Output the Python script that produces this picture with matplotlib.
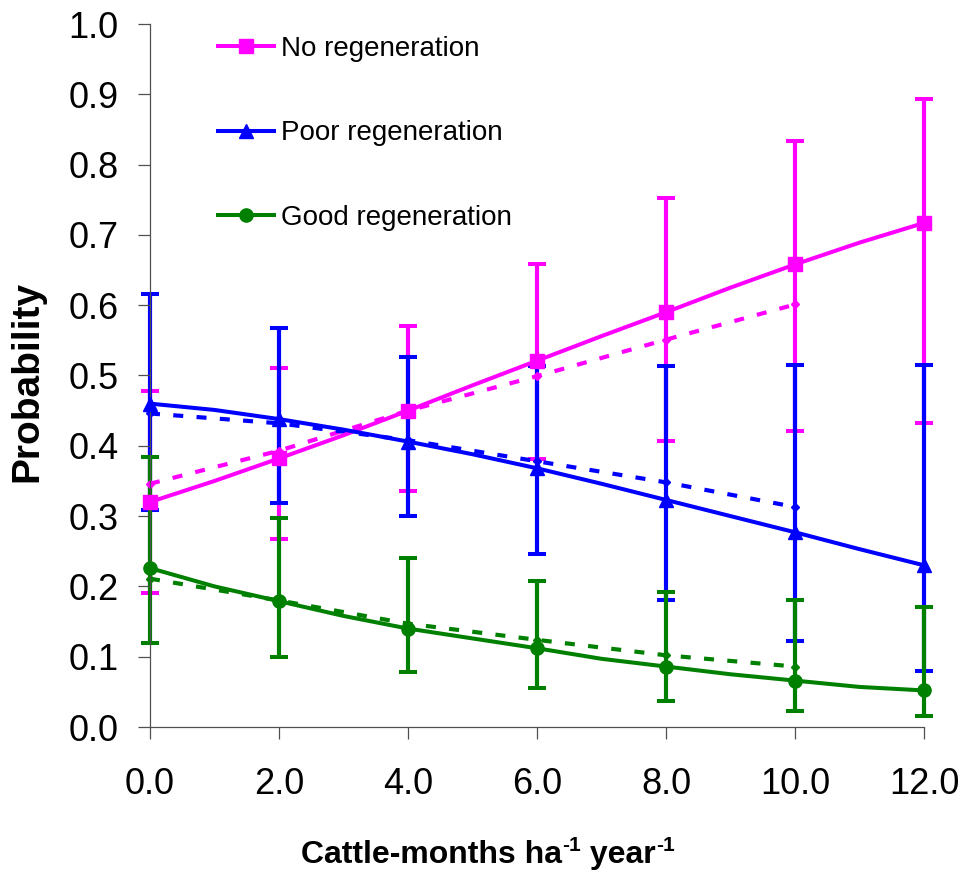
"""
    Regeneration probability vs stocking rate
"""

import numpy as np
import matplotlib
matplotlib.use('Agg')
import matplotlib.pyplot as plt

plt.rcParams['font.family'] = ['Liberation Sans', 'DejaVu Sans']

# Model curves (solid), one value per cattle-month step
x_model = [0, 1, 2, 3, 4, 5, 6, 7, 8, 9, 10, 11, 12]
no_model = [0.320, 0.350, 0.382, 0.415, 0.450, 0.486, 0.521, 0.556, 0.590, 0.625, 0.658, 0.689, 0.717]
poor_model = [0.460, 0.451, 0.438, 0.423, 0.406, 0.388, 0.368, 0.346, 0.323, 0.300, 0.277, 0.253, 0.230]
good_model = [0.226, 0.200, 0.179, 0.158, 0.140, 0.126, 0.112, 0.097, 0.086, 0.075, 0.066, 0.057, 0.052]

# Error bar limits at the marked points
x_err = [0, 2, 4, 6, 8, 10, 12]
no_low = [0.191, 0.268, 0.336, 0.381, 0.407, 0.421, 0.433]
no_high = [0.478, 0.510, 0.570, 0.658, 0.752, 0.834, 0.894]
poor_low = [0.308, 0.319, 0.300, 0.246, 0.180, 0.123, 0.080]
poor_high = [0.616, 0.567, 0.527, 0.513, 0.513, 0.515, 0.515]
good_low = [0.120, 0.100, 0.078, 0.055, 0.037, 0.023, 0.015]
good_high = [0.384, 0.297, 0.240, 0.208, 0.192, 0.180, 0.171]

# Observed values (dotted)
x_obs = [0, 2, 4, 6, 8, 10]
no_obs = [0.346, 0.393, 0.450, 0.499, 0.551, 0.601]
poor_obs = [0.446, 0.432, 0.408, 0.378, 0.348, 0.313]
good_obs = [0.211, 0.180, 0.147, 0.124, 0.102, 0.086]

labels = ['No regeneration', 'Poor regeneration', 'Good regeneration']
colors = ['#FF00FF', '#0000FF', '#008000']
markers = ['s', '^', 'o']

W, H = 963, 872
fig = plt.figure(figsize=(W / 100, H / 100), dpi=100)
ax = fig.add_axes([150 / W, 1 - 727 / H, 774 / W, 703 / H])

lw = 2.9
series = [
    (no_model, no_low, no_high, no_obs),
    (poor_model, poor_low, poor_high, poor_obs),
    (good_model, good_low, good_high, good_obs),
]

handles = []
for i, (model, low, high, obs) in enumerate(series):
    c = colors[i]
    ym = np.array(model)[::2]
    yerr = [ym - np.array(low), np.array(high) - ym]
    eb = ax.errorbar(x_err, ym, yerr=yerr, fmt='none', ecolor=c, elinewidth=3.0,
                     capsize=6.5, capthick=2.9, zorder=1 + 0.1 * i)
    for a in list(eb[1]) + list(eb[2]):
        a.set_clip_on(False)
    ax.plot(x_obs, obs, color=c, lw=3.0, ls=(0, (2.4, 3.2)),
            marker='D', ms=4.5, zorder=2 + 0.1 * i, clip_on=False)
    h, = ax.plot(x_model, model, color=c, lw=lw, marker=markers[i],
                 ms=10 if markers[i] != 'o' else 9.5, markevery=2,
                 zorder=3 + 0.1 * i, label=labels[i], clip_on=False)
    handles.append(h)

ax.set_xlim(0, 12)
ax.set_ylim(0, 1.0)
ax.set_xticks(x_err)
ax.set_xticklabels(['%.1f' % v for v in x_err])
ax.set_yticks(np.arange(0, 1.01, 0.1))
ax.set_yticklabels(['%.1f' % v for v in np.arange(0, 1.01, 0.1)])

for s in ['top', 'right']:
    ax.spines[s].set_visible(False)
for s in ['left', 'bottom']:
    ax.spines[s].set_color('#505050')
    ax.spines[s].set_linewidth(0.9)
ax.tick_params(direction='out', length=8.6, width=0.9, color='#505050',
               labelsize=26)
ax.tick_params(axis='y', pad=14)
ax.tick_params(axis='x', pad=20)

# y axis title
fig.text(27 / W, 1 - 381 / H, 'Probability', fontsize=28, fontweight='bold',
         rotation=90, ha='center', va='center')

# x axis title, with superscripts drawn as separate pieces
parts = [('Cattle-months ha', False), ('-1', True), (' year', False), ('-1', True)]
renderer = fig.canvas.get_renderer()
pieces = []
for s, sup in parts:
    t = fig.text(0, 0, s, fontsize=15 if sup else 23, fontweight='bold',
                 va='baseline', ha='left')
    pieces.append(t)
widths = [t.get_window_extent(renderer).width for t in pieces]
xpos = 488 - sum(widths) / 2
for t, w, (s, sup) in zip(pieces, widths, parts):
    t.set_position((xpos / W, 1 - (851 if sup else 863) / H))
    xpos += w

ax.legend(handles=handles, loc='upper left', bbox_to_anchor=(0.088, 0.983),
          frameon=False, fontsize=20, numpoints=1, handlelength=2.0,
          handletextpad=0.26, labelspacing=2.1, borderpad=0, borderaxespad=0)

fig.savefig('out.png', dpi=100)
